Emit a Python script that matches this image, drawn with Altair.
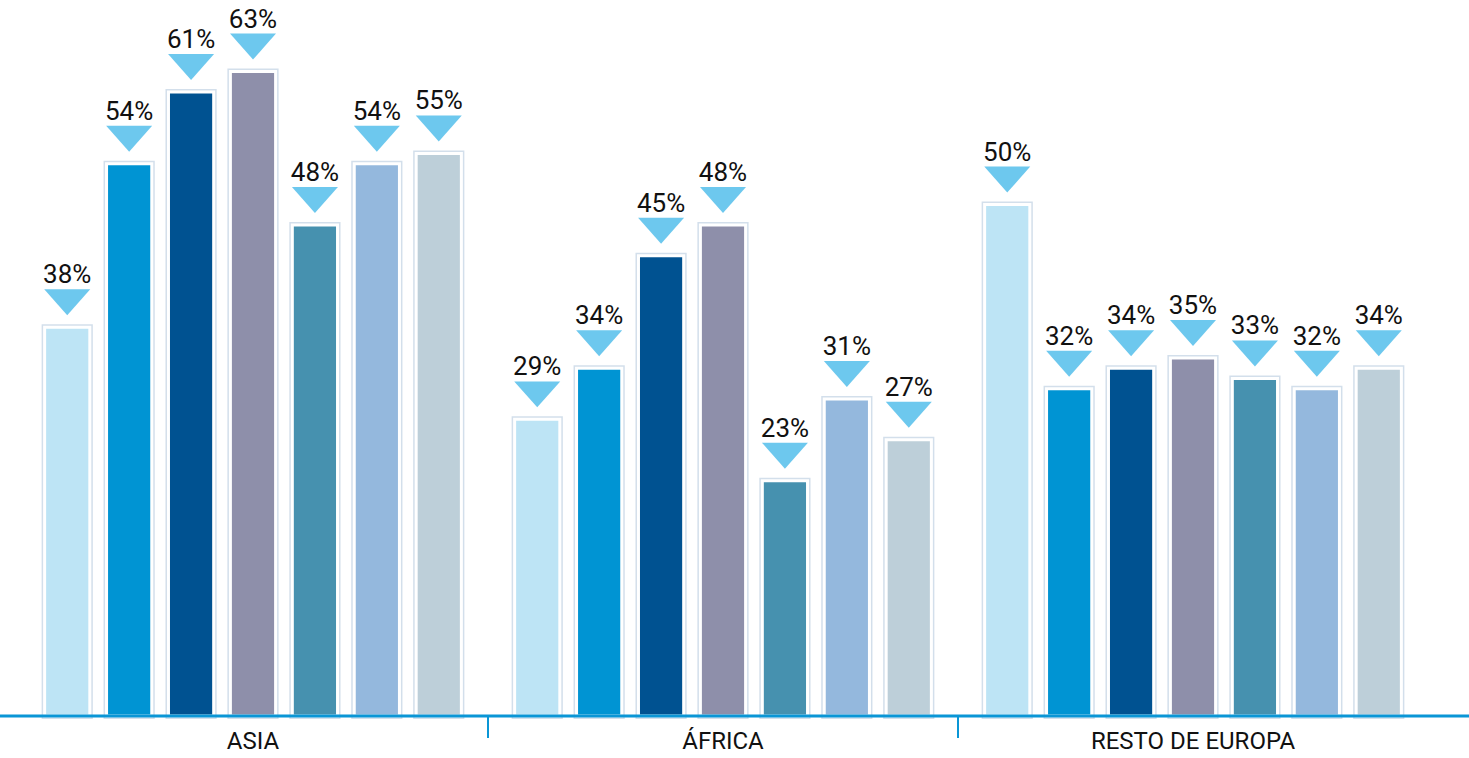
import altair as alt
import pandas as pd

regions = ["ASIA", "ÁFRICA", "RESTO DE EUROPA"]
series = ["Serie 1", "Serie 2", "Serie 3", "Serie 4", "Serie 5", "Serie 6", "Serie 7"]
values_asia = [38, 54, 61, 63, 48, 54, 55]
values_africa = [29, 34, 45, 48, 23, 31, 27]
values_europa = [50, 32, 34, 35, 33, 32, 34]
colors = ["#bde4f5", "#0094d3", "#005291", "#8e8faa", "#4691af", "#94b8dd", "#bdcfd9"]

FONT = "Roboto"

rows = []
for r, vals in zip(regions, [values_asia, values_africa, values_europa]):
    for s, v in zip(series, vals):
        rows.append({"region": r, "series": s, "value": v, "label": f"{v}%"})
df = pd.DataFrame(rows)

X = alt.X(
    "region:N",
    sort=regions,
    scale=alt.Scale(paddingInner=0, paddingOuter=0),
    axis=alt.Axis(
        title=None, domain=False, ticks=False, labelAngle=0, labelLimit=0,
        labelFontSize=24, labelFont=FONT, labelColor="#111111", labelPadding=13,
    ),
)
XO = alt.XOffset("series:N", sort=series, scale=alt.Scale(paddingInner=0.27, paddingOuter=0.43))
Y = alt.Y("value:Q", scale=alt.Scale(domain=[0, 70], nice=False, zero=True), axis=None)

base = alt.Chart(df).encode(x=X, xOffset=XO, y=Y)

outer = base.mark_bar(stroke="#d3dfeb", strokeWidth=6, fill="#d3dfeb")
inner = base.mark_bar(stroke="white", strokeWidth=3).encode(
    color=alt.Color("series:N", sort=series, scale=alt.Scale(domain=series, range=colors), legend=None)
)
TRI = "M-1,-0.565L1,-0.565L0,0.565Z"
tri = base.mark_point(
    shape=TRI, size=2116, filled=True, opacity=1, color="#6dc8ee", strokeWidth=0, yOffset=-25
)
txt = base.mark_text(
    dy=-44, baseline="alphabetic", fontSize=26, font=FONT, color="#111111"
).encode(text="label:N")

baseline = alt.Chart(pd.DataFrame({"a": [0]})).mark_rule(color="#0a96d6", strokeWidth=3).encode(
    x=alt.value(-18), x2=alt.value(1451), y=alt.value(716)
)
seps = alt.Chart(pd.DataFrame({"region": regions[1:]})).mark_rule(color="#0a96d6", strokeWidth=2).encode(
    x=alt.X("region:N", sort=regions, bandPosition=0),
    y=alt.value(716),
    y2=alt.value(738),
)

chart = alt.layer(outer, inner, baseline, seps, tri, txt).properties(
    width=1410,
    height=716,
    background="white",
    autosize=alt.AutoSizeParams(type="none"),
    padding={"left": 18, "top": 0, "right": 41, "bottom": 42},
).configure_view(strokeWidth=0, stroke=None)

chart.save("out.html", embed_options={"renderer": "svg", "actions": False})
